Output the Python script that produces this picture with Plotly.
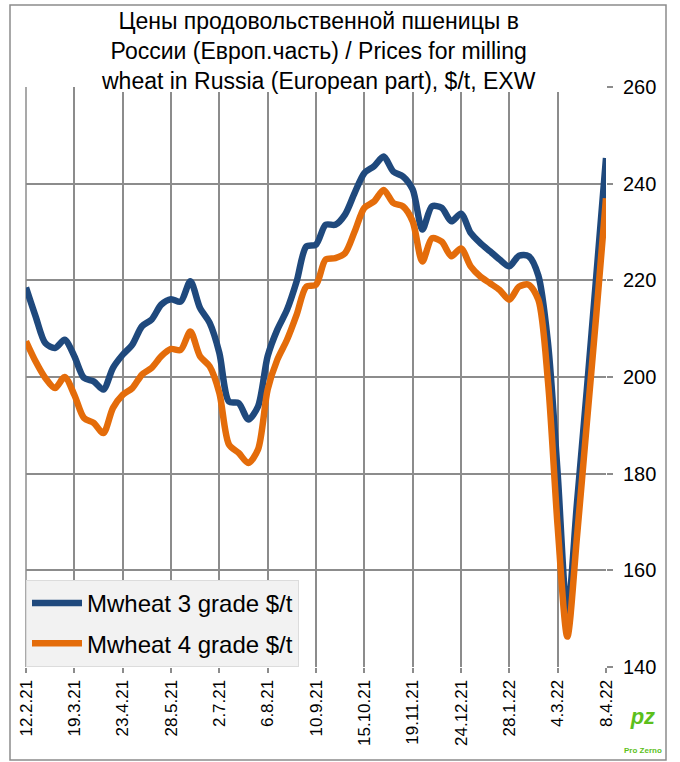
import plotly.graph_objects as go
import pandas as pd

# Weekly dates, 12.2.21 .. 8.4.22
dates = pd.date_range("2021-02-12", "2022-04-08", freq="7D")

tick_labels = ["12.2.21", "19.3.21", "23.4.21", "28.5.21", "2.7.21", "6.8.21",
               "10.9.21", "15.10.21", "19.11.21", "24.12.21", "28.1.22", "4.3.22", "8.4.22"]

wheat3 = [218.5, 212.5, 207.0, 206.0, 207.7, 204.3, 199.8, 199.1, 197.4, 201.9,
          204.6, 206.7, 210.5, 211.9, 215.0, 216.1, 215.6, 219.8, 214.3, 211.2,
          205.0, 194.9, 194.6, 191.2, 193.9, 204.3, 209.8, 213.9, 219.8, 227.0,
          227.4, 231.5, 231.5, 233.6, 238.1, 242.2, 243.6, 245.6, 242.5, 241.5,
          238.8, 230.5, 235.3, 235.0, 232.2, 233.8, 229.8, 227.7, 226.0, 224.3,
          222.9, 225.1, 225.0, 221.0, 207.0, 180.0, 151.0, 174.0, 197.0, 221.0,
          245.3]

wheat4 = [207.4, 203.2, 199.8, 197.7, 200.0, 196.3, 191.5, 190.5, 188.4, 193.6,
          196.3, 197.7, 200.5, 201.9, 204.3, 205.8, 205.6, 209.4, 204.3, 202.2,
          196.7, 186.0, 184.3, 182.2, 185.0, 197.4, 203.6, 207.7, 212.9, 218.7,
          219.1, 224.3, 224.6, 225.6, 230.1, 235.0, 236.3, 238.7, 236.0, 235.3,
          232.2, 223.9, 228.7, 228.0, 225.0, 226.6, 222.9, 220.8, 219.4, 218.0,
          216.0, 218.7, 219.1, 216.0, 199.0, 169.0, 146.3, 167.0, 190.0, 213.0,
          237.0]

series_names = ["Mwheat 3 grade $/t", "Mwheat 4 grade $/t"]
title_text = ("Цены продовольственной пшеницы в<br>"
              "России (Европ.часть) / Prices for milling<br>"
              "wheat in Russia (European part), $/t, EXW")

FONT = "Liberation Sans, Arial, sans-serif"
GRID = "#8c8c8c"

fig = go.Figure()
fig.add_trace(go.Scatter(x=dates, y=wheat3, name=series_names[0], mode="lines",
                         legendgroup="a",
                         line=dict(color="#1F497D", width=6.5, shape="spline", smoothing=0.8)))
fig.add_trace(go.Scatter(x=dates, y=wheat4, name=series_names[1], mode="lines",
                         legendgroup="b",
                         line=dict(color="#E46C0A", width=6.5, shape="spline", smoothing=0.8)))

tickvals = list(dates[::5])

fig.update_layout(
    width=680, height=762,
    margin=dict(l=26, r=74, t=87, b=95, autoexpand=False),
    paper_bgcolor="white", plot_bgcolor="white",
    font=dict(family=FONT, color="black"),
    showlegend=True,
    legend=dict(x=0, y=0, xanchor="left", yanchor="bottom",
                bgcolor="#f2f2f2", bordercolor="#dcdcdc", borderwidth=1,
                font=dict(size=24, family=FONT, color="black"),
                tracegroupgap=6, traceorder="grouped",
                itemwidth=50),
    xaxis=dict(type="date", range=[dates[0], dates[-1]], automargin=False,
               tickvals=tickvals, ticktext=tick_labels, tickangle=-90,
               tickfont=dict(size=17, family=FONT, color="black"),
               showgrid=True, gridcolor=GRID, gridwidth=1.5,
               ticks="outside", ticklen=5, tickcolor=GRID, tickwidth=1.5,
               showline=False, zeroline=False),
    yaxis=dict(side="right", range=[140, 260], dtick=20, tick0=140, automargin=False,
               tickfont=dict(size=20, family=FONT, color="black"),
               showgrid=True, gridcolor=GRID, gridwidth=1.5,
               ticks="outside", ticklen=6, tickcolor=GRID, tickwidth=1.5,
               ticklabelstandoff=6,
               showline=False, zeroline=False),
)

# Left edge gridline of the plot area
fig.add_shape(type="line", xref="paper", yref="paper", x0=0, x1=0, y0=0, y1=1,
              line=dict(color=GRID, width=1.5), layer="below")

# White box behind the title, hiding the top gridline
fig.add_shape(type="rect", xref="paper", yref="paper",
              x0=(76 - 26) / 580, x1=(561 - 26) / 580,
              y0=(667 - 92) / 580, y1=(667 - 6) / 580,
              fillcolor="white", line=dict(width=0), layer="above")

fig.add_annotation(xref="paper", yref="paper", x=(318 - 26) / 580, y=(667 - 6) / 580,
                   xanchor="center", yanchor="top", showarrow=False,
                   text=title_text, align="center",
                   font=dict(size=23, family=FONT, color="black"))

# Outer chart border
fig.add_shape(type="rect", xref="paper", yref="paper",
              x0=(10 - 26) / 580, x1=(666 - 26) / 580, y0=(667 - 760) / 580, y1=(667 - 5) / 580,
              line=dict(color="#8c8c8c", width=1.5), layer="below")

# Pro Zerno logo approximation
fig.add_annotation(xref="paper", yref="paper", x=(664 - 26) / 580, y=(667 - 757) / 580,
                   xanchor="right", yanchor="bottom", showarrow=False,
                   text="<b><i>pz</i></b><br><span style='font-size:8px'><b>Pro Zerno</b></span>",
                   font=dict(size=22, family=FONT, color="#5cbf1c"), align="center")

fig.write_html("out.html", config={"displayModeBar": False},
               post_script="document.body.style.margin='0';document.body.style.overflow='hidden';")
